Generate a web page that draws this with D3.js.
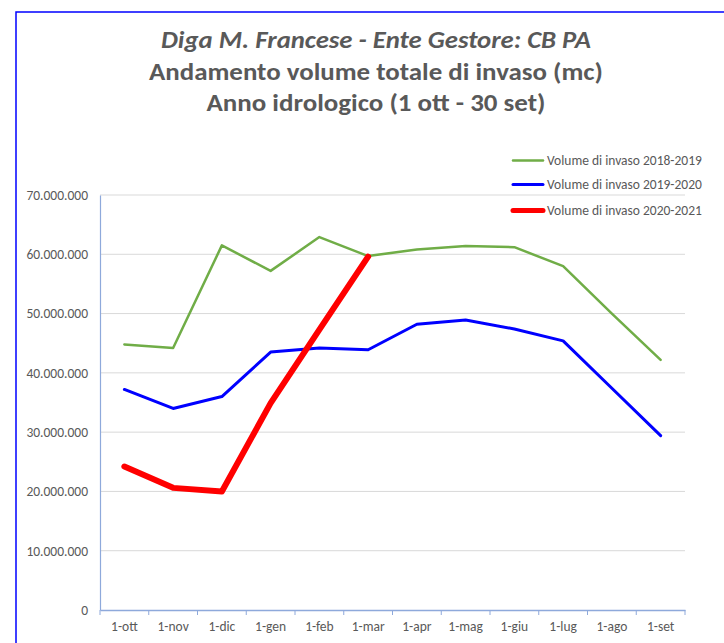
<!DOCTYPE html>
<html><head><meta charset="utf-8">
<script src="https://cdn.jsdelivr.net/npm/d3@7"></script>
<style>body{margin:0;background:#fff}svg{display:block}</style>
</head><body>
<svg id="c" width="724" height="643"></svg>
<script>
const months = ["1-ott","1-nov","1-dic","1-gen","1-feb","1-mar","1-apr","1-mag","1-giu","1-lug","1-ago","1-set"];
const s2018 = [44800000,44200000,61500000,57200000,62900000,59700000,60800000,61400000,61200000,58000000,50000000,42200000];
const s2019 = [37200000,34000000,36000000,43500000,44200000,43900000,48200000,48900000,47400000,45400000,37400000,29400000];
const s2020 = [24200000,20600000,20000000,34900000,47300000,59600000];
const seriesNames = ["Volume di invaso 2018-2019","Volume di invaso 2019-2020","Volume di invaso 2020-2021"];
const yTicks = [0,10000000,20000000,30000000,40000000,50000000,60000000,70000000];
const titleLines = ["Diga M. Francese - Ente Gestore: CB PA","Andamento volume totale di invaso (mc)","Anno idrologico (1 ott - 30 set)"];

const series = [
  {name: seriesNames[0], values: s2018, color: "#70AD47", width: 2.5},
  {name: seriesNames[1], values: s2019, color: "#0000FF", width: 3},
  {name: seriesNames[2], values: s2020, color: "#FF0000", width: 6}
];

const svg = d3.select("#c");
const FONT = "Carlito, Calibri, Lato, 'Liberation Sans', sans-serif";
const GREY = "#595959";

svg.append("rect").attr("width",724).attr("height",643).attr("fill","#fff");
svg.append("rect").attr("x",16).attr("y",12).attr("width",800).attr("height",700)
  .attr("fill","none").attr("stroke","#0000FF").attr("stroke-width",1.5);

// Title
const titleY = [48, 80, 111];
const titleW = [430, 454, 339];
titleLines.forEach((t,i)=>{
  const el = svg.append("text").attr("x",376).attr("y",titleY[i]).attr("text-anchor","middle")
    .attr("font-family",FONT).attr("font-size",24).attr("font-weight","bold")
    .attr("font-style", i===0 ? "italic" : "normal").attr("fill",GREY).text(t);
  const w = el.node().getComputedTextLength();
  if (Math.abs(w - titleW[i]) > 4) el.attr("textLength", titleW[i]).attr("lengthAdjust","spacingAndGlyphs");
});

const x = d3.scaleBand().domain(months).range([100,685]).padding(0);
const y = d3.scaleLinear().domain([0,70000000]).range([610,195]);

// gridlines
svg.append("g").selectAll("line").data(yTicks.filter(d=>d>0)).join("line")
  .attr("x1",100).attr("x2",685).attr("y1",d=>y(d)).attr("y2",d=>y(d))
  .attr("stroke","#d9d9d9").attr("stroke-width",1);

// y axis
const fmt = d => d3.format(",")(d).replace(/,/g,".");
const yAxis = svg.append("g").attr("transform","translate(100,0)")
  .call(d3.axisLeft(y).tickValues(yTicks).tickFormat(fmt).tickSize(0).tickPadding(12));
yAxis.select(".domain").attr("stroke","#8EA9DB").attr("stroke-width",1.2);
yAxis.selectAll("text").attr("font-family",FONT).attr("font-size",13.5).attr("fill",GREY);

// x axis
const xAxis = svg.append("g").attr("transform","translate(0,610)")
  .call(d3.axisBottom(x).tickSize(0).tickPadding(11));
xAxis.select(".domain").attr("stroke","#8EA9DB").attr("stroke-width",1.5);
xAxis.selectAll("text").attr("font-family",FONT).attr("font-size",13.5).attr("fill",GREY);
const bounds = months.map(m=>x(m)).concat([x(months[11])+x.bandwidth()]);
svg.append("g").selectAll("line").data(bounds).join("line")
  .attr("x1",d=>d).attr("x2",d=>d).attr("y1",610).attr("y2",615)
  .attr("stroke","#8EA9DB").attr("stroke-width",1);

// lines
const line = d3.line().x((d,i)=>x(months[i])+x.bandwidth()/2).y(d=>y(d));
svg.append("g").selectAll("path").data(series).join("path")
  .attr("d",d=>line(d.values)).attr("fill","none")
  .attr("stroke",d=>d.color).attr("stroke-width",d=>d.width)
  .attr("stroke-linejoin","round").attr("stroke-linecap","round");

// legend
const legY = [160.5, 184.5, 210.5];
const leg = svg.append("g").selectAll("g").data(series).join("g")
  .attr("transform",(d,i)=>`translate(513,${legY[i]})`);
leg.append("line").attr("x1",0).attr("x2",30).attr("stroke",d=>d.color)
  .attr("stroke-width",d=>d.width===6?5:d.width).attr("stroke-linecap","round");
leg.append("text").attr("x",34).attr("dy","0.35em").attr("font-family",FONT)
  .attr("font-size",13.5).attr("fill",GREY).text(d=>d.name)
  .each(function(){ const w=this.getComputedTextLength(); if (Math.abs(w-155)>4) d3.select(this).attr("textLength",155).attr("lengthAdjust","spacingAndGlyphs"); });
</script>
</body></html>
